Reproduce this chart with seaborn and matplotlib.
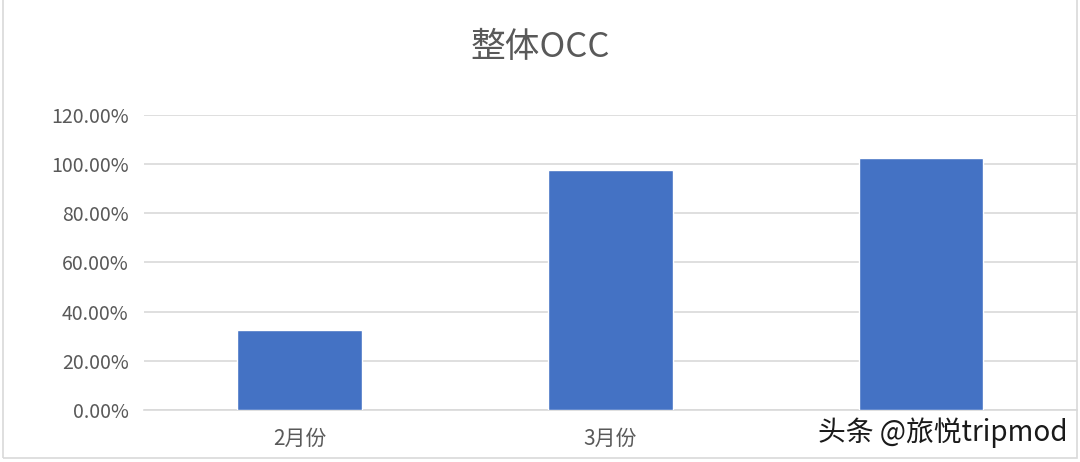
import matplotlib
matplotlib.use("Agg")
import matplotlib.pyplot as plt
import seaborn as sns
import pandas as pd
from matplotlib.ticker import PercentFormatter
from matplotlib.patches import Rectangle

categories = ["2月份", "3月份", "4月份"]
occ = [0.324, 0.976, 1.026]
title = "整体OCC"
watermark = "头条 @旅悦tripmod"

sns.set_theme(style="white")
plt.rcParams['font.family'] = ['Noto Sans CJK SC', 'DejaVu Sans']

df = pd.DataFrame({"month": categories, "occ": occ})

fig = plt.figure(figsize=(10.8, 4.62), dpi=100)
ax = fig.add_axes([0.1333, 0.1126, 0.8637, 0.6385])
sns.barplot(data=df, x="month", y="occ", color="#4472C4", width=0.40,
            saturation=1, ax=ax, zorder=3)

ax.set_xlim(-0.5, 2.5)
ax.set_ylim(0, 1.2)
ax.set_yticks([0, 0.2, 0.4, 0.6, 0.8, 1.0, 1.2])
ax.yaxis.set_major_formatter(PercentFormatter(1.0, decimals=2))
ax.grid(axis="y", color="#d9d9d9", linewidth=1.2, zorder=0)
for s in ["top", "right", "left"]:
    ax.spines[s].set_visible(False)
ax.spines["bottom"].set_color("#d9d9d9")
ax.spines["bottom"].set_linewidth(1.2)
ax.set_xlabel("")
ax.set_ylabel("")
ax.tick_params(axis="y", colors="#595959", labelsize=14, length=0, pad=11)
ax.tick_params(axis="x", colors="#595959", labelsize=15, length=0, pad=13)
# the third month label is covered by the watermark in the reference
ax.get_xticklabels()[2].set_visible(False)

fig.text(0.5, 0.898, title, ha="center", va="center", fontsize=25, color="#595959")

fig.patches.append(Rectangle((0.003, 0.008), 0.994, 1.1, transform=fig.transFigure,
                             fill=False, edgecolor="#d9d9d9", linewidth=1.2))

fig.text(0.757, 0.063, watermark, ha="left", va="center", fontsize=20, color="#1a1a1a",
         bbox=dict(facecolor="white", edgecolor="none", pad=1))

fig.savefig("out.png", dpi=100)
